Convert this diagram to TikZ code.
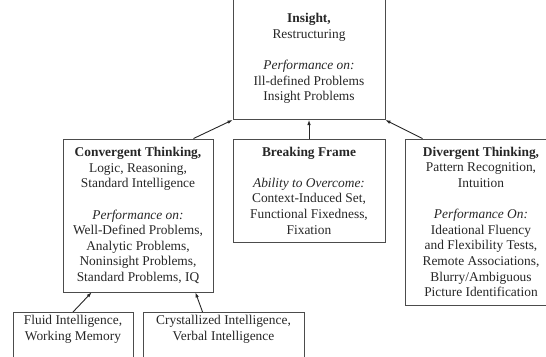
\documentclass[tikz,border=0pt]{standalone}
\usepackage{fontspec}
\setmainfont{Liberation Serif}
\usetikzlibrary{arrows.meta,calc}
\begin{document}
\begin{tikzpicture}[x=1pt,y=-1pt,
  box/.style={draw=black!70,line width=0.9pt,inner sep=0pt,align=center,
    font=\fontsize{13.4}{15.6}\selectfont,text=black!85},
  txt/.style={inner sep=0pt,align=center,
    font=\fontsize{13.4}{15.6}\selectfont,text=black!85},
  conn/.style={draw=black!85,line width=0.9pt,-{Latex[length=5pt,width=3.6pt]}}]
\useasboundingbox (0,0) rectangle (546,356);
\clip (0,0) rectangle (546,356);
\node[box,minimum width=152pt,minimum height=150pt,anchor=south] (ins) at (309,120) {};
\node[txt] (inst) at (309,58.5)
 {\textbf{Insight,}\\Restructuring\\[15.6pt]\textit{Performance on:}\\Ill-defined Problems\\Insight Problems};
\node[box,minimum width=150pt,minimum height=153pt] (conv) at (138,215.5)
 {\textbf{Convergent Thinking,}\\Logic, Reasoning,\\Standard Intelligence\\[15.6pt]\textit{Performance on:}\\Well-Defined Problems,\\Analytic Problems,\\Noninsight Problems,\\Standard Problems, IQ};
\node[box,minimum width=152pt,minimum height=103pt] (brk) at (309,190.5)
 {\textbf{Breaking Frame}\\[15.6pt]\textit{Ability to Overcome:}\\Context-Induced Set,\\Functional Fixedness,\\Fixation};
\node[box,minimum width=152pt,minimum height=166pt] (div) at (481,222)
 {\textbf{Divergent Thinking,}\\Pattern Recognition,\\Intuition\\[15.6pt]\textit{Performance On:}\\Ideational Fluency\\and Flexibility Tests,\\Remote Associations,\\Blurry/Ambiguous\\Picture Identification};
\node[box,minimum width=120pt,minimum height=70pt,anchor=north] (flu) at (73,312) {};
\node[txt] (flut) at (73,329.5) {Fluid Intelligence,\\Working Memory};
\node[box,minimum width=161pt,minimum height=70pt,anchor=north] (cry) at (223.5,312) {};
\node[txt] (cryt) at (223.5,329.5) {Crystallized Intelligence,\\Verbal Intelligence};
\draw[conn] ($(conv.north east)+(-20,0)$) -- (ins.south west);
\draw[conn] (brk.north) -- (ins.south);
\draw[conn] ($(div.north west)+(18,0)$) -- (ins.south east);
\draw[conn] (flu.north) -- ($(conv.south west)+(29,0)$);
\draw[conn] ($(cry.north west)+(60,0)$) -- ($(conv.south east)+(-18,0)$);
\end{tikzpicture}
\end{document}
